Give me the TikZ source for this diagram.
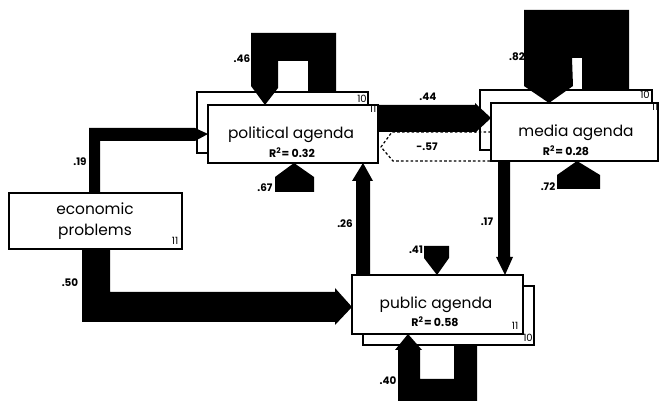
\documentclass[tikz,border=0pt]{standalone}
\usepackage{fontspec}
\setmainfont{Poppins}
\usetikzlibrary{calc}
\begin{document}
\begin{tikzpicture}[x=0.5pt,y=-0.5pt,
  box/.style={draw=black,line width=0.75pt,fill=white,inner sep=0pt},
  flow/.style={fill=black},
  dflow/.style={draw=black,line width=0.6pt,dash pattern=on 1.3pt off 1.1pt},
  txt/.style={font=\fontsize{7.7}{10.5}\selectfont,inner sep=0pt},
  rsq/.style={font=\fontsize{5.5}{6}\selectfont\bfseries,inner sep=0pt},
  coef/.style={font=\fontsize{5.2}{6}\selectfont\bfseries,inner sep=0pt},
  corner/.style={font=\fontsize{5}{6}\selectfont,inner sep=0pt}]
\clip (0,0) rectangle (660,401);
\fill[white] (0,0) rectangle (660,401);
% back boxes
\node[box,minimum width=85.5pt,minimum height=30.5pt] (polb) at (282.5,122.5) {};
\node[box,minimum width=86pt,minimum height=30pt] (medb) at (566,120) {};
\node[box,minimum width=85.5pt,minimum height=29.5pt] (pubb) at (448.5,315.5) {};
% front box positions (coordinates used by flows)
\coordinate (polc) at (293,134);
\coordinate (medc) at (574.5,132);
\coordinate (pubc) at (437.5,304.5);
\coordinate (econc) at (95.5,221);
% flows
% .19 economic -> political
\fill[flow] (89,193) -- (89,128) -- (195,128) -- (208,134) -- (195,141) -- (100,141) -- (100,193) -- cycle;
% .50 economic -> public
\fill[flow] (82,249) -- (82,322) -- (335,322) -- (335,325) -- (352,307) -- (335,288) -- (335,292) -- (110,292) -- (110,249) -- cycle;
% .26 public -> political
\fill[flow] (356,275) -- (356,181) -- (352,181) -- (363,163) -- (373,181) -- (370,181) -- (370,275) -- cycle;
% .17 media -> public
\fill[flow] (498,161) -- (498,257) -- (496,257) -- (505,275) -- (513,257) -- (510,257) -- (510,161) -- cycle;
% .44 political -> media
\fill[flow] (378,105) -- (475,105) -- (475,103) -- (491,118) -- (475,133) -- (475,132) -- (378,132) -- cycle;
% -.57 media -> political (dashed)
\draw[dflow] (491,132) -- (392,132) -- (381,147) -- (393,161) -- (491,161);
% .46 political loop
\fill[flow] (308,92) -- (308,61) -- (278,61) -- (278,88) -- (265,105) -- (251,86) -- (251,33) -- (336,33) -- (336,92) -- cycle;
% .82 media loop
\fill[flow] (582,90) -- (582,58) -- (572,58) -- (573,86) -- (549,103) -- (524,86) -- (524,10) -- (629,10) -- (629,90) -- cycle;
% .40 public loop
\fill[flow] (398,405) -- (398,350) -- (395,350) -- (408,334) -- (422,350) -- (420,350) -- (420,379) -- (454,379) -- (454,345) -- (477,345) -- (477,405) -- cycle;
% error arrows
\fill[flow] (275,192) -- (275,177) -- (294,163) -- (314,177) -- (314,192) -- cycle;
\fill[flow] (557,189) -- (557,175) -- (577,161) -- (600,175) -- (600,189) -- cycle;
\fill[flow] (424,246) -- (449,246) -- (449,258) -- (437,275) -- (424,258) -- cycle;
% front boxes
\node[box,minimum width=85pt,minimum height=29pt] (pol) at (polc) {};
\node[box,minimum width=83.5pt,minimum height=29pt] (med) at (medc) {};
\node[box,minimum width=85.5pt,minimum height=29.5pt] (pub) at (pubc) {};
\node[box,minimum width=86.5pt,minimum height=28pt] (econ) at (econc) {};
% texts
\node[txt] (polt) at (291,135) {political agenda};
\node[rsq] (polr) at (292,153) {R\textsuperscript{2}= 0.32};
\node[txt] (medt) at (576,133) {media agenda};
\node[rsq] (medr) at (566,151) {R\textsuperscript{2}= 0.28};
\node[txt] (pubt) at (436,305) {public agenda};
\node[rsq] (pubr) at (435,322) {R\textsuperscript{2}= 0.58};
\node[txt,align=center] (econt) at (95,221) {economic\\problems};
% corner numbers
\node[corner] (polb10) at (362,99) {10};
\node[corner] (pol11) at (373,109) {11};
\node[corner] (medb10) at (645,95) {10};
\node[corner] (med11) at (655,107) {11};
\node[corner] (pub11) at (515,326) {11};
\node[corner] (pubb10) at (528,338) {10};
\node[corner] (econ11) at (175,241) {11};
% coefficients
\node[coef] (c46) at (242,59) {.46};
\node[coef] (c67) at (265,188) {.67};
\node[coef] (c82) at (517,57) {.82};
\node[coef] (c72) at (548,187) {.72};
\node[coef] (c44) at (428,97) {.44};
\node[coef] (c57) at (427,147) {-.57};
\node[coef] (c19) at (80,162) {.19};
\node[coef] (c50) at (70,283) {.50};
\node[coef] (c26) at (345,224) {.26};
\node[coef] (c17) at (487,222) {.17};
\node[coef] (c41) at (416,250) {.41};
\node[coef] (c40) at (388,381) {.40};
\end{tikzpicture}
\end{document}
